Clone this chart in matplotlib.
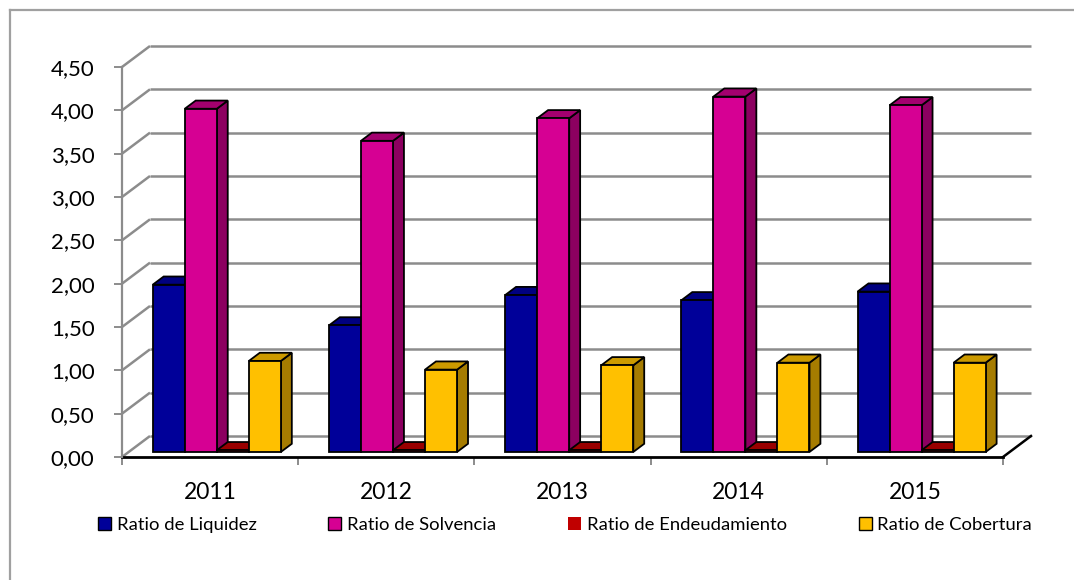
import matplotlib
matplotlib.use('Agg')
import matplotlib.pyplot as plt
from matplotlib.patches import Polygon, Patch
from matplotlib.lines import Line2D
from matplotlib.ticker import FuncFormatter

plt.rcParams['font.family'] = ['Lato', 'DejaVu Sans']

# ---- data ----
years = ['2011', '2012', '2013', '2014', '2015']
series_names = ['Ratio de Liquidez', 'Ratio de Solvencia',
                'Ratio de Endeudamiento', 'Ratio de Cobertura']
liquidez = [1.93, 1.46, 1.81, 1.75, 1.85]
solvencia = [3.96, 3.59, 3.85, 4.10, 4.00]
endeudamiento = [0.02, 0.02, 0.02, 0.02, 0.02]
cobertura = [1.05, 0.95, 1.00, 1.03, 1.03]
y_ticks = [0.0, 0.5, 1.0, 1.5, 2.0, 2.5, 3.0, 3.5, 4.0, 4.5]

series_values = [liquidez, solvencia, endeudamiento, cobertura]
# (front, top, side) colours per series
face_colors = [('#000099', '#000080', '#00006B'),
               ('#D60093', '#A3006F', '#8C0060'),
               ('#C00000', '#990000', '#800000'),
               ('#FFC000', '#CC9A00', '#A67C00')]
legend_edges = ['black', 'black', 'none', 'black']

W, H = 1074, 580
fig = plt.figure(figsize=(W / 100, H / 100), dpi=100)
fig.patch.set_facecolor('white')
ax = fig.add_axes([122 / W, 1 - 457 / H, 881 / W, 390 / H])
ncat = len(years)
ymax = y_ticks[-1]
ax.set_xlim(0, ncat)
ax.set_ylim(0, ymax)
ax.patch.set_visible(False)

# oblique depth offsets (data units)
DX = 28 / (881 / ncat)
DY = 21 / (390 / ymax)
F0 = 0.24      # bar front depth fraction
FD = 0.39      # bar depth fraction
BW = 1 / 5.5   # bar width (gap width 150%)

gridc = '#8C8C8C'
# back wall gridlines and side-wall diagonals
for v in y_ticks:
    ax.plot([DX, ncat + DX], [v + DY, v + DY], color=gridc, lw=1.8,
            zorder=1, clip_on=False, solid_capstyle='butt')
    ax.plot([0, DX], [v, v + DY], color=gridc, lw=1.8, zorder=1,
            clip_on=False, solid_capstyle='butt')
# floor right edge
ax.plot([ncat, ncat + DX], [0, DY], color='black', lw=1.8, zorder=2,
        clip_on=False)

# bars
for i in range(ncat):
    for k, vals in enumerate(series_values):
        v = vals[i]
        fc, tc, sc = face_colors[k]
        xl = i + F0 * DX + 0.75 * BW + k * BW
        xr = xl + BW
        y0 = F0 * DY
        top = v + y0
        ddx, ddy = FD * DX, FD * DY
        front = Polygon([(xl, y0), (xr, y0), (xr, top), (xl, top)],
                        closed=True, facecolor=fc, edgecolor='black',
                        lw=1.3, zorder=3, clip_on=False, joinstyle='miter')
        side = Polygon([(xr, y0), (xr + ddx, y0 + ddy),
                        (xr + ddx, top + ddy), (xr, top)],
                       closed=True, facecolor=sc, edgecolor='black',
                       lw=1.3, zorder=3, clip_on=False, joinstyle='miter')
        topf = Polygon([(xl, top), (xr, top), (xr + ddx, top + ddy),
                        (xl + ddx, top + ddy)],
                       closed=True, facecolor=tc, edgecolor='black',
                       lw=1.3, zorder=3, clip_on=False, joinstyle='miter')
        ax.add_patch(side)
        ax.add_patch(topf)
        ax.add_patch(front)

# axes styling
for s in ['top', 'right']:
    ax.spines[s].set_visible(False)
ax.spines['left'].set_color(gridc)
ax.spines['left'].set_linewidth(1.6)
ax.spines['bottom'].set_color('black')
ax.spines['bottom'].set_linewidth(2.0)
ax.spines['bottom'].set_zorder(2)

ax.set_yticks(y_ticks)
ax.yaxis.set_major_formatter(FuncFormatter(lambda v, p: f'{v:.2f}'.replace('.', ',')))
ax.tick_params(axis='y', length=5.8, width=1.4, color=gridc, pad=14,
               labelsize=16, labelcolor='black')

ax.set_xticks(list(range(ncat + 1)))
ax.set_xticklabels([])
ax.set_xticks([i + 0.5 for i in range(ncat)], minor=True)
ax.set_xticklabels(years, minor=True)
ax.tick_params(axis='x', which='major', length=6, width=1.4, color=gridc,
               direction='out')
ax.tick_params(axis='x', which='minor', length=0, pad=18, labelsize=16.5)

# legend
handles = [Patch(facecolor=face_colors[k][0], edgecolor=legend_edges[k], lw=1.0)
           for k in range(len(series_names))]
fig.legend(handles, series_names, loc='center',
           bbox_to_anchor=(565 / W, 1 - 525 / H), ncol=4, frameon=False,
           fontsize=13.3, handlelength=0.7, handleheight=0.7,
           handletextpad=0.3, columnspacing=3.9)

# chart-area border (left and top visible)
fig.add_artist(Line2D([10 / W, 10 / W], [0, 1 - 10 / H], transform=fig.transFigure,
                      color='#A0A0A0', lw=1.6))
fig.add_artist(Line2D([10 / W, 1], [1 - 10 / H, 1 - 10 / H], transform=fig.transFigure,
                      color='#A0A0A0', lw=1.6))

fig.savefig('out.png', dpi=100)
